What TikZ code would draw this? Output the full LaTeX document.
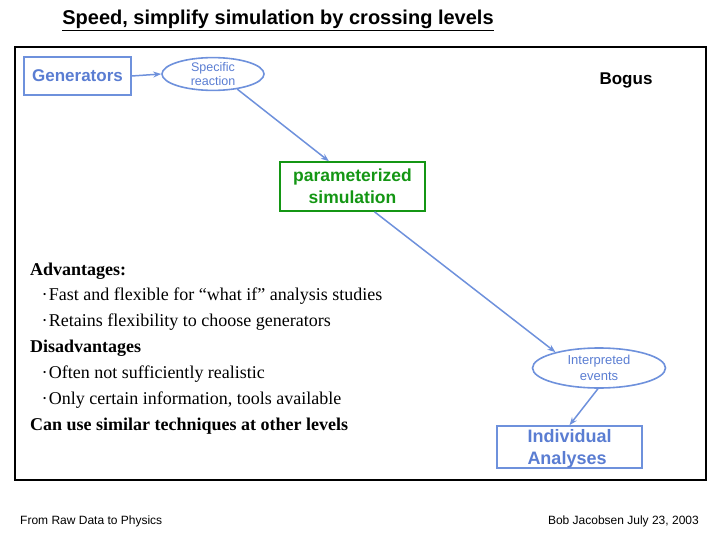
\documentclass[tikz,border=0pt]{standalone}
\usepackage{fontspec}
\setmainfont{Liberation Serif}
\setsansfont{Liberation Sans}
\usetikzlibrary{arrows.meta,shapes.geometric}
\definecolor{bluetext}{RGB}{90,125,210}
\definecolor{blueline}{RGB}{110,145,220}
\definecolor{greenbox}{RGB}{20,150,20}
\newcommand{\smallbul}{\raisebox{2.5pt}{\fontsize{9}{9}\selectfont\textbullet}\hspace{2.5pt}}
\tikzset{
  bluebox/.style={draw=blueline,line width=1.6pt,text=bluetext,font=\sffamily\bfseries\fontsize{17}{22}\selectfont,inner sep=0pt},
  blueell/.style={ellipse,draw=blueline,line width=1.6pt,text=bluetext,align=center,inner sep=0pt},
  conn/.style={draw=blueline,line width=1.5pt,-{Stealth[length=8pt,width=6pt]}},
  bodyline/.style={anchor=base west,inner sep=0pt,font=\fontsize{18}{20}\selectfont},
  bodyhead/.style={bodyline,font=\bfseries\fontsize{18}{20}\selectfont},
}
\begin{document}
\begin{tikzpicture}[x=1pt,y=-1pt]
\useasboundingbox (0,0) rectangle (720,540);
% title
\node (title) at (278,20) {\sffamily\bfseries\fontsize{20}{22}\selectfont\underline{Speed, simplify simulation by crossing levels}};
% frame
\draw[line width=2pt] (15,47) rectangle (706,480);
% nodes
\node[bluebox,minimum width=107pt,minimum height=38pt] (gen) at (77.5,76) {Generators};
\node[blueell,minimum width=102pt,minimum height=30pt,font=\sffamily\fontsize{12.5}{14}\selectfont] (spec) at (213,74) {Specific\\reaction};
\node[anchor=base,font=\sffamily\bfseries\fontsize{17}{20}\selectfont] (bogus) at (626,85) {Bogus};
\node[draw=greenbox,line width=1.6pt,text=greenbox,font=\sffamily\bfseries\fontsize{17.5}{22}\selectfont,align=center,minimum width=145pt,minimum height=49pt,inner sep=0pt] (param) at (352.5,186.5) {parameterized\\simulation};
\node[blueell,minimum width=133pt,minimum height=40pt,font=\sffamily\fontsize{13}{16}\selectfont] (interp) at (599,368) {Interpreted\\events};
\node[bluebox,minimum width=145pt,minimum height=42pt,font=\sffamily\bfseries\fontsize{18}{22}\selectfont,align=left,text depth=0pt] (indiv) at (569.5,447) {Individual\\Analyses};
% connectors
\draw[conn] (gen.east) -- (spec.west);
\draw[conn] (spec.-32) -- (param.133);
\draw[conn] (param.-49) -- (interp.160);
\draw[conn] (interp.-93) -- (indiv.north);
% body text
\node[bodyhead] (l1) at (30,275) {Advantages:};
\node[bodyline] (l2) at (43,300) {\smallbul Fast and flexible for “what if” analysis studies};
\node[bodyline] (l3) at (43,326) {\smallbul Retains flexibility to choose generators};
\node[bodyhead] (l4) at (30,352) {Disadvantages};
\node[bodyline] (l5) at (43,378) {\smallbul Often not sufficiently realistic};
\node[bodyline] (l6) at (43,404) {\smallbul Only certain information, tools available};
\node[bodyhead] (l7) at (30,430) {Can use similar techniques at other levels};
% footer
\node[anchor=base west,inner sep=0pt,font=\sffamily\fontsize{12}{14}\selectfont] (foot1) at (20,524) {From Raw Data to Physics};
\node[anchor=base east,inner sep=0pt,font=\sffamily\fontsize{12}{14}\selectfont] (foot2) at (699,524) {Bob Jacobsen July 23, 2003};
\end{tikzpicture}
\end{document}
